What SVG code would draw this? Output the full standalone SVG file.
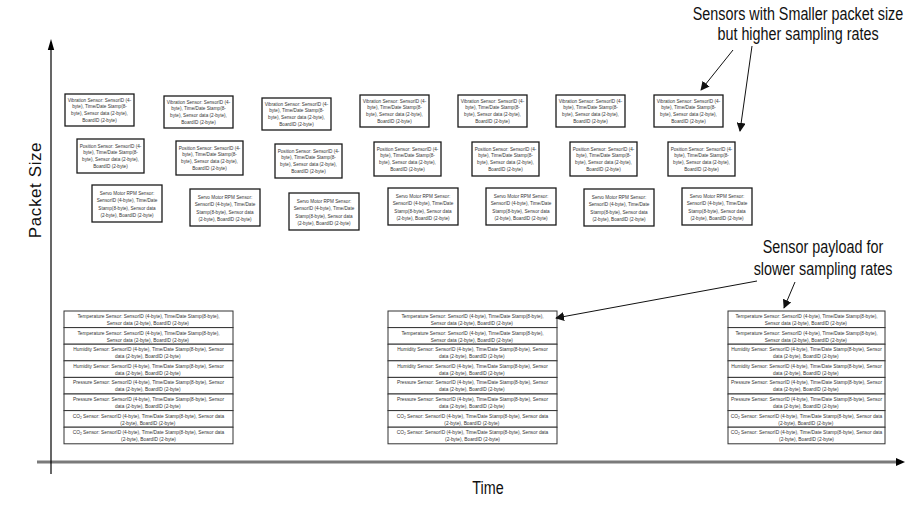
<svg xmlns="http://www.w3.org/2000/svg" width="909" height="511" viewBox="0 0 909 511">
<style>
.bx{fill:#fff;stroke:#1a1a1a;stroke-width:1.3}
.rw{fill:#fff;stroke:#333;stroke-width:1}
.t{font-family:"Liberation Sans",Arial,sans-serif;font-size:5.7px;fill:#333;text-anchor:middle}
.ts{font-family:"Liberation Sans",Arial,sans-serif;font-size:5.9px;fill:#333;text-anchor:middle}
.big{font-family:"Liberation Sans",Arial,sans-serif;font-size:17.5px;fill:#111;text-anchor:middle}
.ln{stroke:#111;stroke-width:1;fill:none}
</style>
<defs>
<marker id="ah" viewBox="0 0 10 10" refX="9" refY="5" markerWidth="9" markerHeight="9" markerUnits="userSpaceOnUse" orient="auto"><path d="M0,0 L10,5 L0,10 z" fill="#111"/></marker>
</defs>

<g id="axes">
<line x1="37" y1="462" x2="898" y2="462" stroke="#7a7a7a" stroke-width="3"/>
<path d="M896,458 L905,462 L896,466 z" fill="#000"/>
<line x1="51" y1="474" x2="51" y2="48" stroke="#000" stroke-width="1.2"/>
<path d="M47.8,50 L51,39 L54.2,50 z" fill="#000"/>
<text x="488" y="494" class="big" transform="translate(488,0) scale(0.82,1) translate(-488,0)">Time</text>
<text transform="translate(41,190) rotate(-90)" style="font-family:'Liberation Sans',Arial,sans-serif;font-size:17px;fill:#111;text-anchor:middle;letter-spacing:0.6px">Packet Size</text>
</g>

<g id="vib1"><rect class="bx" x="65" y="94" width="69" height="32"/><text class="t" transform="translate(99.5,101.5) scale(0.82,1)"><tspan x="0" y="0">Vibration Sensor: SensorID (4-</tspan><tspan x="0" y="7">byte), Time/Date Stamp(8-</tspan><tspan x="0" y="14">byte), Sensor data (2-byte),</tspan><tspan x="0" y="21">BoardID (2-byte)</tspan></text></g>
<g id="vib2"><rect class="bx" x="164" y="96" width="69" height="32"/><text class="t" transform="translate(198.5,103.5) scale(0.82,1)"><tspan x="0" y="0">Vibration Sensor: SensorID (4-</tspan><tspan x="0" y="7">byte), Time/Date Stamp(8-</tspan><tspan x="0" y="14">byte), Sensor data (2-byte),</tspan><tspan x="0" y="21">BoardID (2-byte)</tspan></text></g>
<g id="vib3"><rect class="bx" x="262" y="98" width="69" height="32"/><text class="t" transform="translate(296.5,105.5) scale(0.82,1)"><tspan x="0" y="0">Vibration Sensor: SensorID (4-</tspan><tspan x="0" y="7">byte), Time/Date Stamp(8-</tspan><tspan x="0" y="14">byte), Sensor data (2-byte),</tspan><tspan x="0" y="21">BoardID (2-byte)</tspan></text></g>
<g id="vib4"><rect class="bx" x="360" y="95" width="69" height="32"/><text class="t" transform="translate(394.5,102.5) scale(0.82,1)"><tspan x="0" y="0">Vibration Sensor: SensorID (4-</tspan><tspan x="0" y="7">byte), Time/Date Stamp(8-</tspan><tspan x="0" y="14">byte), Sensor data (2-byte),</tspan><tspan x="0" y="21">BoardID (2-byte)</tspan></text></g>
<g id="vib5"><rect class="bx" x="458" y="95" width="69" height="32"/><text class="t" transform="translate(492.5,102.5) scale(0.82,1)"><tspan x="0" y="0">Vibration Sensor: SensorID (4-</tspan><tspan x="0" y="7">byte), Time/Date Stamp(8-</tspan><tspan x="0" y="14">byte), Sensor data (2-byte),</tspan><tspan x="0" y="21">BoardID (2-byte)</tspan></text></g>
<g id="vib6"><rect class="bx" x="556" y="95" width="69" height="32"/><text class="t" transform="translate(590.5,102.5) scale(0.82,1)"><tspan x="0" y="0">Vibration Sensor: SensorID (4-</tspan><tspan x="0" y="7">byte), Time/Date Stamp(8-</tspan><tspan x="0" y="14">byte), Sensor data (2-byte),</tspan><tspan x="0" y="21">BoardID (2-byte)</tspan></text></g>
<g id="vib7"><rect class="bx" x="654" y="95" width="69" height="32"/><text class="t" transform="translate(688.5,102.5) scale(0.82,1)"><tspan x="0" y="0">Vibration Sensor: SensorID (4-</tspan><tspan x="0" y="7">byte), Time/Date Stamp(8-</tspan><tspan x="0" y="14">byte), Sensor data (2-byte),</tspan><tspan x="0" y="21">BoardID (2-byte)</tspan></text></g>

<g id="pos1"><rect class="bx" x="77" y="139" width="67" height="34"/><text class="t" transform="translate(110.5,147.5) scale(0.82,1)"><tspan x="0" y="0">Position Sensor: SensorID (4-</tspan><tspan x="0" y="7">byte), Time/Date Stamp(8-</tspan><tspan x="0" y="14">byte), Sensor data (2-byte),</tspan><tspan x="0" y="21">BoardID (2-byte)</tspan></text></g>
<g id="pos2"><rect class="bx" x="176" y="141" width="67" height="34"/><text class="t" transform="translate(209.5,149.5) scale(0.82,1)"><tspan x="0" y="0">Position Sensor: SensorID (4-</tspan><tspan x="0" y="7">byte), Time/Date Stamp(8-</tspan><tspan x="0" y="14">byte), Sensor data (2-byte),</tspan><tspan x="0" y="21">BoardID (2-byte)</tspan></text></g>
<g id="pos3"><rect class="bx" x="275" y="144" width="67" height="34"/><text class="t" transform="translate(308.5,152.5) scale(0.82,1)"><tspan x="0" y="0">Position Sensor: SensorID (4-</tspan><tspan x="0" y="7">byte), Time/Date Stamp(8-</tspan><tspan x="0" y="14">byte), Sensor data (2-byte),</tspan><tspan x="0" y="21">BoardID (2-byte)</tspan></text></g>
<g id="pos4"><rect class="bx" x="374" y="142" width="67" height="34"/><text class="t" transform="translate(407.5,150.5) scale(0.82,1)"><tspan x="0" y="0">Position Sensor: SensorID (4-</tspan><tspan x="0" y="7">byte), Time/Date Stamp(8-</tspan><tspan x="0" y="14">byte), Sensor data (2-byte),</tspan><tspan x="0" y="21">BoardID (2-byte)</tspan></text></g>
<g id="pos5"><rect class="bx" x="472" y="142" width="67" height="34"/><text class="t" transform="translate(505.5,150.5) scale(0.82,1)"><tspan x="0" y="0">Position Sensor: SensorID (4-</tspan><tspan x="0" y="7">byte), Time/Date Stamp(8-</tspan><tspan x="0" y="14">byte), Sensor data (2-byte),</tspan><tspan x="0" y="21">BoardID (2-byte)</tspan></text></g>
<g id="pos6"><rect class="bx" x="570" y="142" width="67" height="34"/><text class="t" transform="translate(603.5,150.5) scale(0.82,1)"><tspan x="0" y="0">Position Sensor: SensorID (4-</tspan><tspan x="0" y="7">byte), Time/Date Stamp(8-</tspan><tspan x="0" y="14">byte), Sensor data (2-byte),</tspan><tspan x="0" y="21">BoardID (2-byte)</tspan></text></g>
<g id="pos7"><rect class="bx" x="668" y="142" width="67" height="34"/><text class="t" transform="translate(701.5,150.5) scale(0.82,1)"><tspan x="0" y="0">Position Sensor: SensorID (4-</tspan><tspan x="0" y="7">byte), Time/Date Stamp(8-</tspan><tspan x="0" y="14">byte), Sensor data (2-byte),</tspan><tspan x="0" y="21">BoardID (2-byte)</tspan></text></g>

<g id="servo1"><rect class="bx" x="92" y="185" width="70" height="37"/><text class="t" transform="translate(127,195) scale(0.82,1)"><tspan x="0" y="0">Servo Motor RPM Sensor:</tspan><tspan x="0" y="7.5">SensorID (4-byte), Time/Date</tspan><tspan x="0" y="15">Stamp(8-byte), Sensor data</tspan><tspan x="0" y="22.5">(2-byte), BoardID (2-byte)</tspan></text></g>
<g id="servo2"><rect class="bx" x="190" y="189" width="70" height="37"/><text class="t" transform="translate(225,199) scale(0.82,1)"><tspan x="0" y="0">Servo Motor RPM Sensor:</tspan><tspan x="0" y="7.5">SensorID (4-byte), Time/Date</tspan><tspan x="0" y="15">Stamp(8-byte), Sensor data</tspan><tspan x="0" y="22.5">(2-byte), BoardID (2-byte)</tspan></text></g>
<g id="servo3"><rect class="bx" x="289" y="193" width="70" height="37"/><text class="t" transform="translate(324,203) scale(0.82,1)"><tspan x="0" y="0">Servo Motor RPM Sensor:</tspan><tspan x="0" y="7.5">SensorID (4-byte), Time/Date</tspan><tspan x="0" y="15">Stamp(8-byte), Sensor data</tspan><tspan x="0" y="22.5">(2-byte), BoardID (2-byte)</tspan></text></g>
<g id="servo4"><rect class="bx" x="388" y="188" width="70" height="37"/><text class="t" transform="translate(423,198) scale(0.82,1)"><tspan x="0" y="0">Servo Motor RPM Sensor:</tspan><tspan x="0" y="7.5">SensorID (4-byte), Time/Date</tspan><tspan x="0" y="15">Stamp(8-byte), Sensor data</tspan><tspan x="0" y="22.5">(2-byte), BoardID (2-byte)</tspan></text></g>
<g id="servo5"><rect class="bx" x="486" y="188" width="70" height="37"/><text class="t" transform="translate(521,198) scale(0.82,1)"><tspan x="0" y="0">Servo Motor RPM Sensor:</tspan><tspan x="0" y="7.5">SensorID (4-byte), Time/Date</tspan><tspan x="0" y="15">Stamp(8-byte), Sensor data</tspan><tspan x="0" y="22.5">(2-byte), BoardID (2-byte)</tspan></text></g>
<g id="servo6"><rect class="bx" x="584" y="189" width="70" height="37"/><text class="t" transform="translate(619,199) scale(0.82,1)"><tspan x="0" y="0">Servo Motor RPM Sensor:</tspan><tspan x="0" y="7.5">SensorID (4-byte), Time/Date</tspan><tspan x="0" y="15">Stamp(8-byte), Sensor data</tspan><tspan x="0" y="22.5">(2-byte), BoardID (2-byte)</tspan></text></g>
<g id="servo7"><rect class="bx" x="682" y="188" width="70" height="37"/><text class="t" transform="translate(717,198) scale(0.82,1)"><tspan x="0" y="0">Servo Motor RPM Sensor:</tspan><tspan x="0" y="7.5">SensorID (4-byte), Time/Date</tspan><tspan x="0" y="15">Stamp(8-byte), Sensor data</tspan><tspan x="0" y="22.5">(2-byte), BoardID (2-byte)</tspan></text></g>

<g id="stack1">
<rect class="rw" x="64" y="311" width="169" height="16.6"/><rect class="rw" x="64" y="327.6" width="169" height="16.6"/><rect class="rw" x="64" y="344.2" width="169" height="16.6"/><rect class="rw" x="64" y="360.8" width="169" height="16.6"/><rect class="rw" x="64" y="377.4" width="169" height="16.6"/><rect class="rw" x="64" y="394" width="169" height="16.6"/><rect class="rw" x="64" y="410.6" width="169" height="16.6"/><rect class="rw" x="64" y="427.2" width="169" height="16.6"/>
<text class="ts" transform="translate(148.5,311) scale(0.82,1)">
<tspan x="0" y="7">Temperature Sensor: SensorID (4-byte), Time/Date Stamp(8-byte),</tspan><tspan x="0" y="14">Sensor data (2-byte), BoardID (2-byte)</tspan>
<tspan x="0" y="23.6">Temperature Sensor: SensorID (4-byte), Time/Date Stamp(8-byte),</tspan><tspan x="0" y="30.6">Sensor data (2-byte), BoardID (2-byte)</tspan>
<tspan x="0" y="40.2">Humidity Sensor: SensorID (4-byte), Time/Date Stamp(8-byte), Sensor</tspan><tspan x="0" y="47.2">data (2-byte), BoardID (2-byte)</tspan>
<tspan x="0" y="56.8">Humidity Sensor: SensorID (4-byte), Time/Date Stamp(8-byte), Sensor</tspan><tspan x="0" y="63.8">data (2-byte), BoardID (2-byte)</tspan>
<tspan x="0" y="73.4">Pressure Sensor: SensorID (4-byte), Time/Date Stamp(8-byte), Sensor</tspan><tspan x="0" y="80.4">data (2-byte), BoardID (2-byte)</tspan>
<tspan x="0" y="90">Pressure Sensor: SensorID (4-byte), Time/Date Stamp(8-byte), Sensor</tspan><tspan x="0" y="97">data (2-byte), BoardID (2-byte)</tspan>
<tspan x="0" y="106.6">CO<tspan font-size="4" dy="1">2</tspan><tspan dy="-1"> Sensor: SensorID (4-byte), Time/Date Stamp(8-byte), Sensor data</tspan></tspan><tspan x="0" y="113.6">(2-byte), BoardID (2-byte)</tspan>
<tspan x="0" y="123.2">CO<tspan font-size="4" dy="1">2</tspan><tspan dy="-1"> Sensor: SensorID (4-byte), Time/Date Stamp(8-byte), Sensor data</tspan></tspan><tspan x="0" y="130.2">(2-byte), BoardID (2-byte)</tspan>
</text>
</g>

<g id="stack2">
<rect class="rw" x="388" y="311" width="169" height="16.6"/><rect class="rw" x="388" y="327.6" width="169" height="16.6"/><rect class="rw" x="388" y="344.2" width="169" height="16.6"/><rect class="rw" x="388" y="360.8" width="169" height="16.6"/><rect class="rw" x="388" y="377.4" width="169" height="16.6"/><rect class="rw" x="388" y="394" width="169" height="16.6"/><rect class="rw" x="388" y="410.6" width="169" height="16.6"/><rect class="rw" x="388" y="427.2" width="169" height="16.6"/>
<text class="ts" transform="translate(472.5,311) scale(0.82,1)">
<tspan x="0" y="7">Temperature Sensor: SensorID (4-byte), Time/Date Stamp(8-byte),</tspan><tspan x="0" y="14">Sensor data (2-byte), BoardID (2-byte)</tspan>
<tspan x="0" y="23.6">Temperature Sensor: SensorID (4-byte), Time/Date Stamp(8-byte),</tspan><tspan x="0" y="30.6">Sensor data (2-byte), BoardID (2-byte)</tspan>
<tspan x="0" y="40.2">Humidity Sensor: SensorID (4-byte), Time/Date Stamp(8-byte), Sensor</tspan><tspan x="0" y="47.2">data (2-byte), BoardID (2-byte)</tspan>
<tspan x="0" y="56.8">Humidity Sensor: SensorID (4-byte), Time/Date Stamp(8-byte), Sensor</tspan><tspan x="0" y="63.8">data (2-byte), BoardID (2-byte)</tspan>
<tspan x="0" y="73.4">Pressure Sensor: SensorID (4-byte), Time/Date Stamp(8-byte), Sensor</tspan><tspan x="0" y="80.4">data (2-byte), BoardID (2-byte)</tspan>
<tspan x="0" y="90">Pressure Sensor: SensorID (4-byte), Time/Date Stamp(8-byte), Sensor</tspan><tspan x="0" y="97">data (2-byte), BoardID (2-byte)</tspan>
<tspan x="0" y="106.6">CO<tspan font-size="4" dy="1">2</tspan><tspan dy="-1"> Sensor: SensorID (4-byte), Time/Date Stamp(8-byte), Sensor data</tspan></tspan><tspan x="0" y="113.6">(2-byte), BoardID (2-byte)</tspan>
<tspan x="0" y="123.2">CO<tspan font-size="4" dy="1">2</tspan><tspan dy="-1"> Sensor: SensorID (4-byte), Time/Date Stamp(8-byte), Sensor data</tspan></tspan><tspan x="0" y="130.2">(2-byte), BoardID (2-byte)</tspan>
</text>
</g>

<g id="stack3">
<rect class="rw" x="728" y="311" width="157" height="16.6"/><rect class="rw" x="728" y="327.6" width="157" height="16.6"/><rect class="rw" x="728" y="344.2" width="157" height="16.6"/><rect class="rw" x="728" y="360.8" width="157" height="16.6"/><rect class="rw" x="728" y="377.4" width="157" height="16.6"/><rect class="rw" x="728" y="394" width="157" height="16.6"/><rect class="rw" x="728" y="410.6" width="157" height="16.6"/><rect class="rw" x="728" y="427.2" width="157" height="16.6"/>
<text class="ts" transform="translate(806.5,311) scale(0.82,1)">
<tspan x="0" y="7">Temperature Sensor: SensorID (4-byte), Time/Date Stamp(8-byte),</tspan><tspan x="0" y="14">Sensor data (2-byte), BoardID (2-byte)</tspan>
<tspan x="0" y="23.6">Temperature Sensor: SensorID (4-byte), Time/Date Stamp(8-byte),</tspan><tspan x="0" y="30.6">Sensor data (2-byte), BoardID (2-byte)</tspan>
<tspan x="0" y="40.2">Humidity Sensor: SensorID (4-byte), Time/Date Stamp(8-byte), Sensor</tspan><tspan x="0" y="47.2">data (2-byte), BoardID (2-byte)</tspan>
<tspan x="0" y="56.8">Humidity Sensor: SensorID (4-byte), Time/Date Stamp(8-byte), Sensor</tspan><tspan x="0" y="63.8">data (2-byte), BoardID (2-byte)</tspan>
<tspan x="0" y="73.4">Pressure Sensor: SensorID (4-byte), Time/Date Stamp(8-byte), Sensor</tspan><tspan x="0" y="80.4">data (2-byte), BoardID (2-byte)</tspan>
<tspan x="0" y="90">Pressure Sensor: SensorID (4-byte), Time/Date Stamp(8-byte), Sensor</tspan><tspan x="0" y="97">data (2-byte), BoardID (2-byte)</tspan>
<tspan x="0" y="106.6">CO<tspan font-size="4" dy="1">2</tspan><tspan dy="-1"> Sensor: SensorID (4-byte), Time/Date Stamp(8-byte), Sensor data</tspan></tspan><tspan x="0" y="113.6">(2-byte), BoardID (2-byte)</tspan>
<tspan x="0" y="123.2">CO<tspan font-size="4" dy="1">2</tspan><tspan dy="-1"> Sensor: SensorID (4-byte), Time/Date Stamp(8-byte), Sensor data</tspan></tspan><tspan x="0" y="130.2">(2-byte), BoardID (2-byte)</tspan>
</text>
</g>

<g id="label-high">
<text class="big" transform="translate(798,20) scale(0.82,1)"><tspan x="0" y="0">Sensors with Smaller packet size</tspan><tspan x="0" y="20">but higher sampling rates</tspan></text>
</g>
<g id="label-slow">
<text class="big" transform="translate(823,253) scale(0.82,1)"><tspan x="0" y="0">Sensor payload for</tspan><tspan x="0" y="22">slower sampling rates</tspan></text>
</g>

<g id="connectors">
<line class="ln" x1="733" y1="50" x2="701" y2="90" marker-end="url(#ah)"/>
<line class="ln" x1="752" y1="46" x2="740" y2="131" marker-end="url(#ah)"/>
<line class="ln" x1="757" y1="281" x2="556" y2="318" marker-end="url(#ah)"/>
<line class="ln" x1="795" y1="282" x2="784" y2="308" marker-end="url(#ah)"/>
</g>
</svg>
